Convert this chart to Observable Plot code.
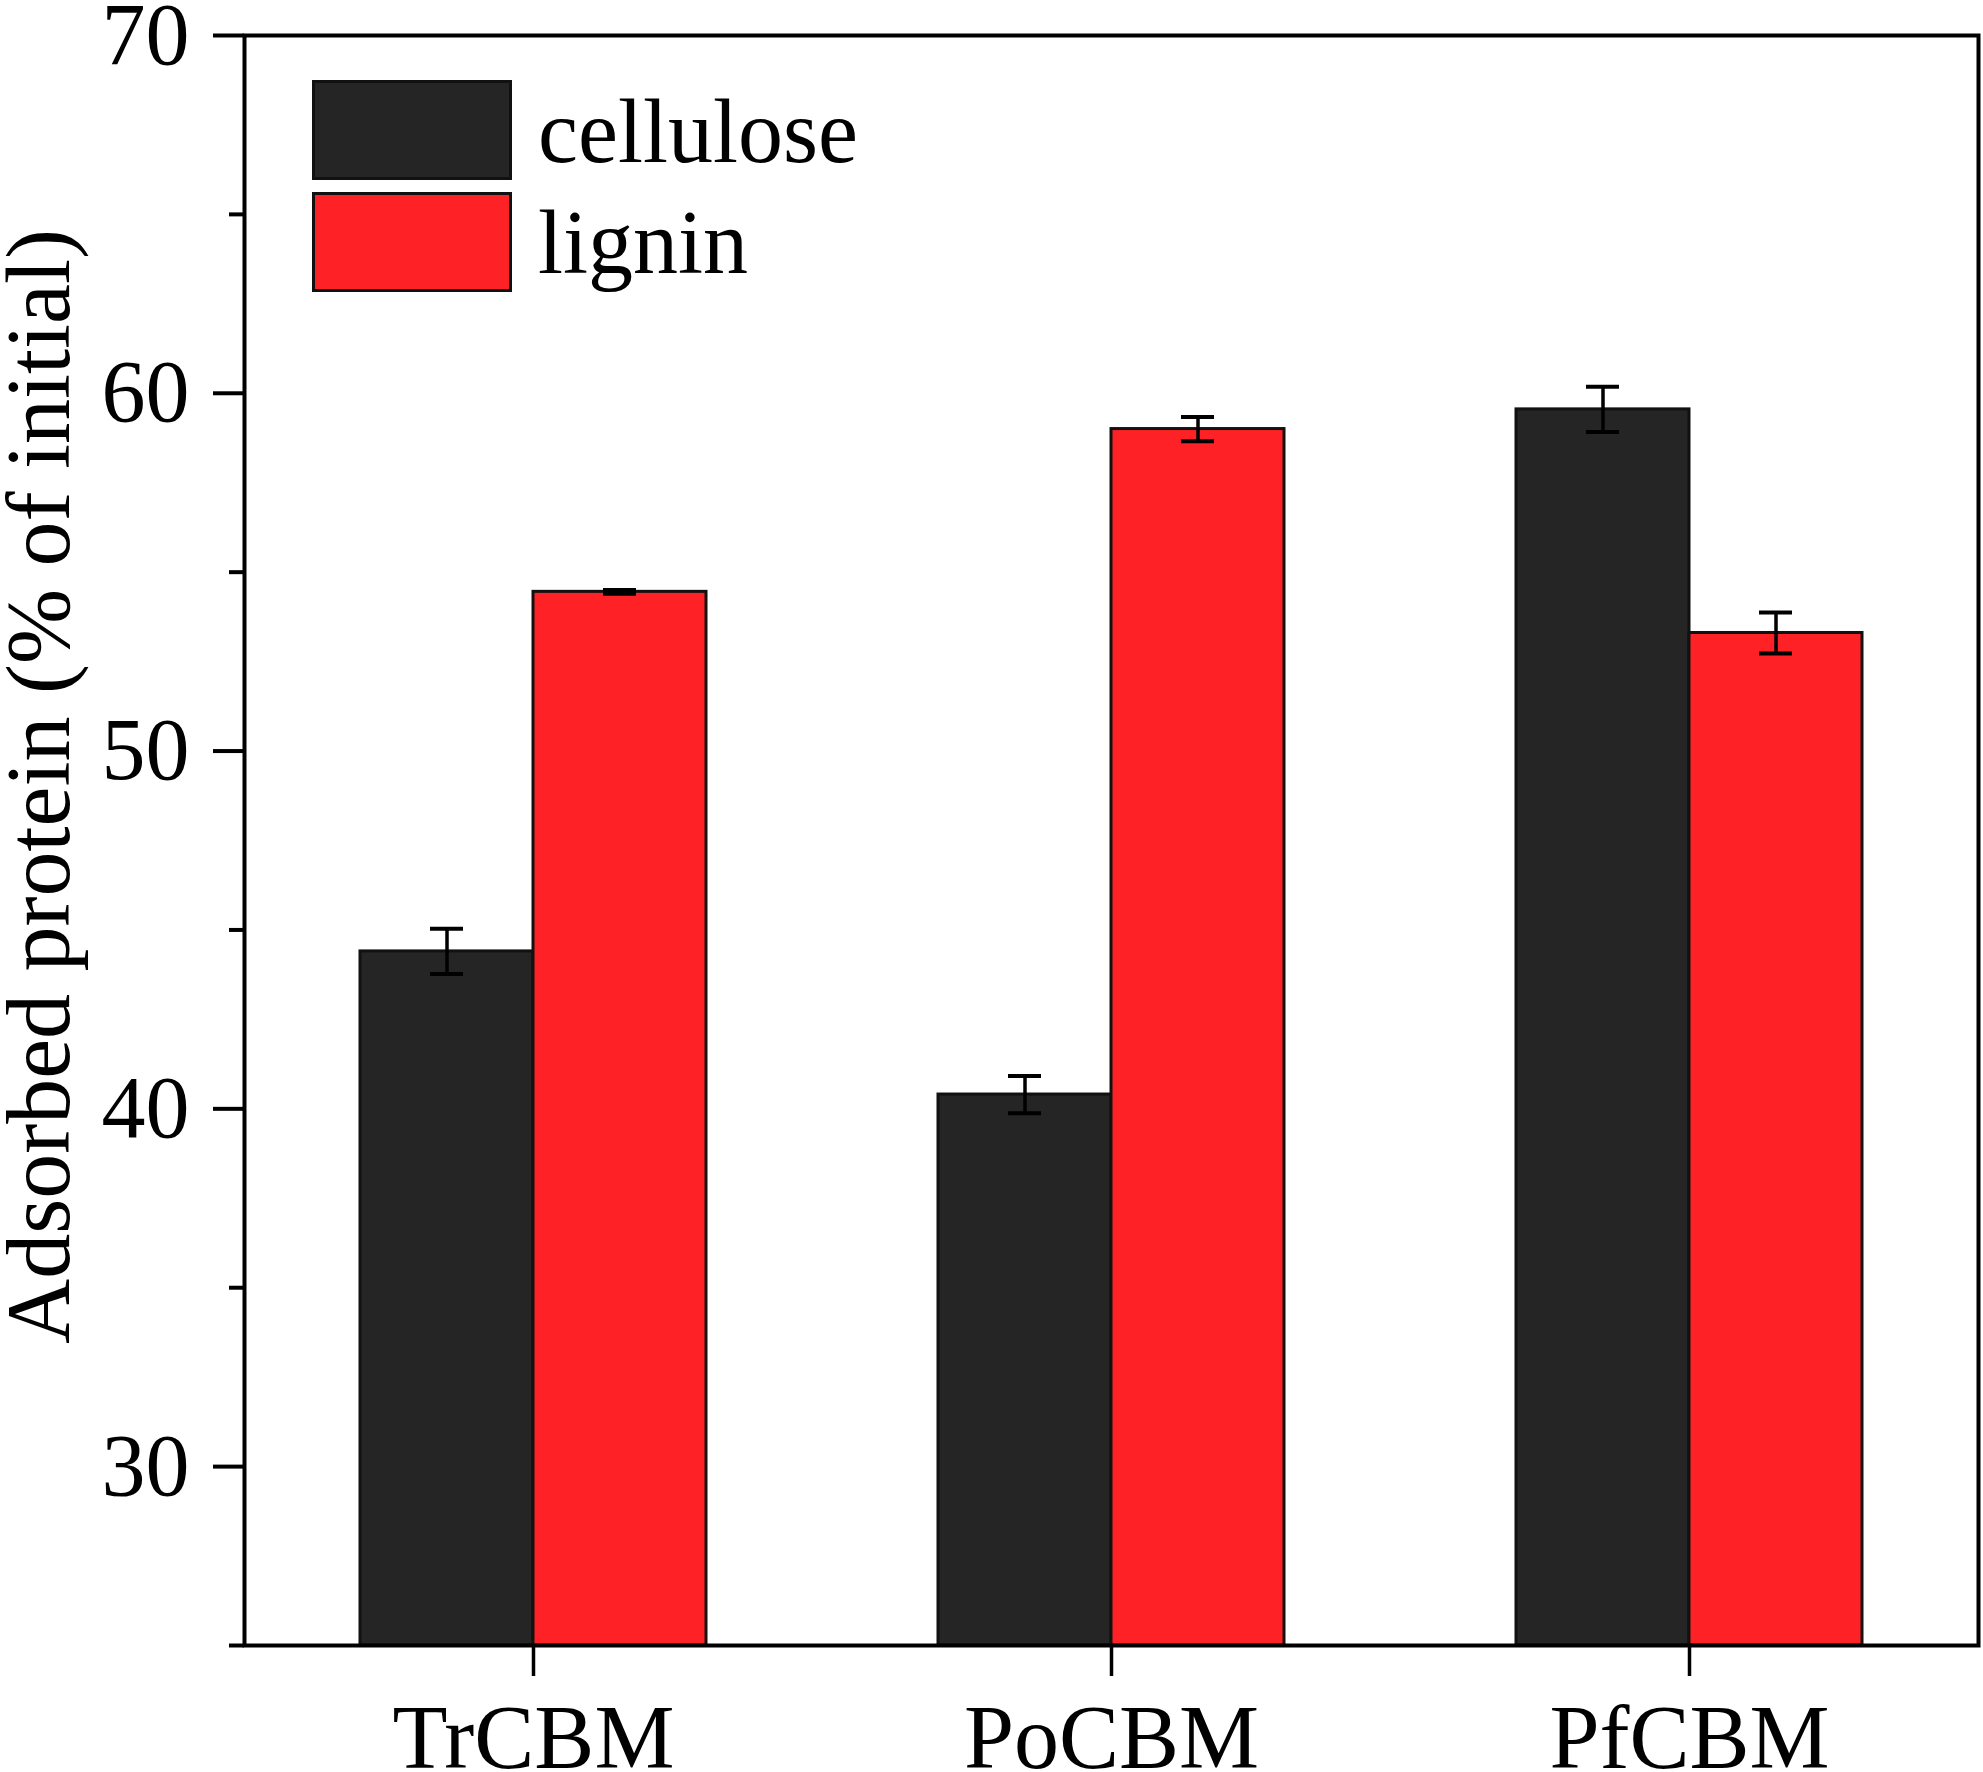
<!DOCTYPE html>
<html><head><meta charset="utf-8">
<script src="https://cdn.jsdelivr.net/npm/d3@7"></script>
<script src="https://cdn.jsdelivr.net/npm/@observablehq/plot@0.6"></script>
<style>
body{margin:0;background:#fff;}
#wrap{position:relative;width:1983px;height:1772px;}
#legend{position:absolute;left:0;top:0;pointer-events:none;}
</style></head><body><div id="wrap"></div>
<script>
const categories = ["TrCBM", "PoCBM", "PfCBM"];
const series = ["cellulose", "lignin"];
const celluloseMean = [44.4, 40.4, 59.55];
const celluloseErr = [0.63, 0.52, 0.63];
const ligninMean = [54.45, 59.0, 53.3];
const ligninErr = [0.05, 0.34, 0.57];
const seriesColors = ["#252525", "#fe2226"];
const yTicks = [30, 40, 50, 60, 70];
const yMinorTicks = [25, 35, 45, 55, 65];
const yDomain = [25, 70];
const yLabel = "Adsorbed protein (% of initial)";

const data = categories.flatMap((c, i) => [
  {group: c, series: series[0], value: celluloseMean[i], err: celluloseErr[i]},
  {group: c, series: series[1], value: ligninMean[i], err: ligninErr[i]}
]);

const FONT = "Liberation Serif, Times New Roman, serif";

const chart = Plot.plot({
  width: 1983, height: 1772,
  marginLeft: 244, marginRight: 5, marginTop: 35, marginBottom: 127,
  style: {fontFamily: FONT, background: "white", color: "black"},
  fx: {domain: categories, padding: 0, label: null, axis: null},
  x: {domain: series, paddingInner: 0, paddingOuter: 0.667, axis: null},
  y: {domain: yDomain, axis: null},
  color: {domain: series, range: seriesColors},
  marks: [
    Plot.barY(data, {fx: "group", x: "series", y1: yDomain[0], y2: "value", fill: "series", stroke: "#111", strokeWidth: 3}),
    Plot.ruleX(data, {fx: "group", x: "series", y1: d => d.value - d.err, y2: d => d.value + d.err, stroke: "#000", strokeWidth: 3.5}),
    Plot.tickY(data, {fx: "group", x: "series", y: d => d.value + d.err, insetLeft: 70, insetRight: 70, stroke: "#000", strokeWidth: 4}),
    Plot.tickY(data, {fx: "group", x: "series", y: d => d.value - d.err, insetLeft: 70, insetRight: 70, stroke: "#000", strokeWidth: 4}),
    Plot.axisY({ticks: yTicks, tickSize: 31, tickPadding: 24, fontSize: 88, strokeWidth: 4, label: null, fill: "black"}),
    Plot.axisY({ticks: yMinorTicks, tickSize: 15, tickFormat: () => "", strokeWidth: 4, label: null}),
    Plot.axisFx({anchor: "bottom", tickSize: 31, tickPadding: 28, fontSize: 90, strokeWidth: 3.5, label: null, fill: "black"}),
    Plot.frame({facet: "super", stroke: "#000", strokeWidth: 4}),
    Plot.text([yLabel], {facet: "super", frameAnchor: "left", rotate: -90, dx: -176, dy: -54, textAnchor: "middle", lineAnchor: "bottom", fontSize: 90, fill: "black"})
  ]
});
const wrap = document.getElementById("wrap");
wrap.appendChild(chart);

// legend overlay
const ns = "http://www.w3.org/2000/svg";
const lg = document.createElementNS(ns, "svg");
lg.setAttribute("id", "legend");
lg.setAttribute("width", 1983);
lg.setAttribute("height", 400);
series.forEach((s, i) => {
  const r = document.createElementNS(ns, "rect");
  r.setAttribute("x", 313.5);
  r.setAttribute("y", 81.5 + i * 112);
  r.setAttribute("width", 197);
  r.setAttribute("height", 97);
  r.setAttribute("fill", seriesColors[i]);
  r.setAttribute("stroke", "#111");
  r.setAttribute("stroke-width", 3);
  lg.appendChild(r);
  const t = document.createElementNS(ns, "text");
  t.setAttribute("x", 538);
  t.setAttribute("y", 162 + i * 111);
  t.setAttribute("font-family", FONT);
  t.setAttribute("font-size", 90);
  t.setAttribute("fill", "black");
  t.textContent = s;
  lg.appendChild(t);
});
wrap.appendChild(lg);
</script></body></html>
